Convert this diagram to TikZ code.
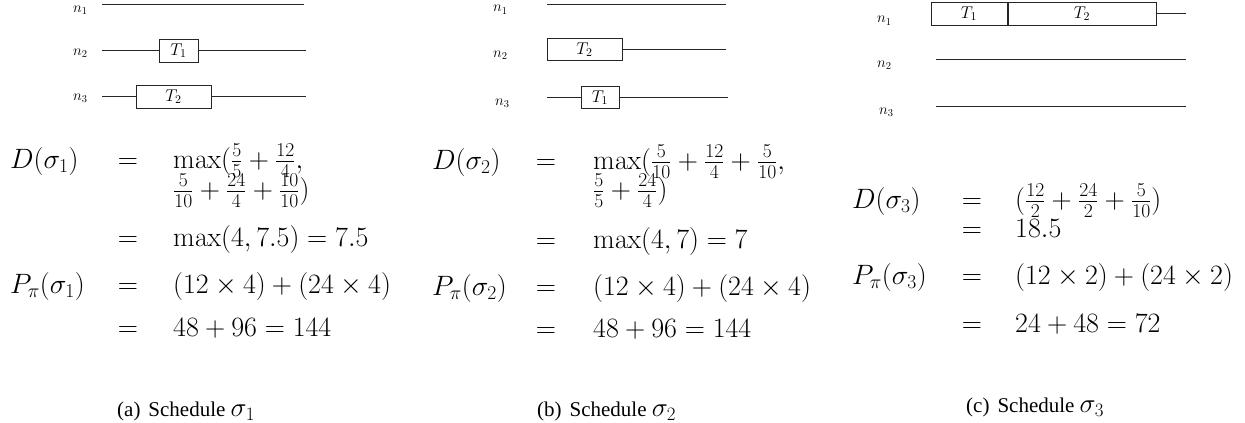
\RequirePackage{fix-cm}
\documentclass[tikz,border=0pt]{standalone}
\usepackage{amsmath}
\usepackage[no-math]{fontspec}
\newfontfamily\capfont{Liberation Serif}
\tikzset{
  eqtext/.style={font=\fontsize{28}{32}\selectfont, inner sep=0pt, anchor=base west},
  eqsign/.style={font=\fontsize{28}{32}\selectfont, inner sep=0pt, anchor=base},
  lbl/.style={font=\fontsize{15}{17}\selectfont, inner sep=0pt, anchor=base west},
  taskbox/.style={draw=black!85, line width=1pt, inner sep=0pt, font=\fontsize{17}{19}\selectfont},
  wire/.style={line width=1pt, draw=black!85},
  captext/.style={font=\capfont\fontsize{21}{25}\selectfont, inner sep=0pt, anchor=base west}
}
\newcommand{\capsig}[1]{{\fontsize{27}{30}\selectfont$\sigma_{#1}$}}
\begin{document}
\begin{tikzpicture}[x=1pt,y=-1pt]
\useasboundingbox (0,0) rectangle (1245,423);

% ---------- Panel (a) diagram ----------
\node[lbl] (a1l) at (73,12.3) {$n_1$};
\node[lbl] (a2l) at (73,55) {$n_2$};
\node[lbl] (a3l) at (73,100) {$n_3$};
\coordinate (a1s) at (102,4.5); \coordinate (a1e) at (304,4.5);
\coordinate (a2s) at (102,50.5); \coordinate (a2e) at (306,50.5);
\coordinate (a3s) at (102,96.5); \coordinate (a3e) at (306,96.5);
\node[taskbox, minimum width=39pt, minimum height=23pt] (aT1) at (178.5,50.5) {$T_1$};
\node[taskbox, minimum width=75pt, minimum height=23pt] (aT2) at (173.5,96.5) {$T_2$};
\draw[wire] (a1s) -- (a1e);
\draw[wire] (a2s) -- (aT1.west);
\draw[wire] (aT1.east) -- (a2e);
\draw[wire] (a3s) -- (aT2.west);
\draw[wire] (aT2.east) -- (a3e);

% ---------- Panel (b) diagram ----------
\node[lbl] (b1l) at (493,12) {$n_1$};
\node[lbl] (b2l) at (493,57) {$n_2$};
\node[lbl] (b3l) at (495,105) {$n_3$};
\coordinate (b1s) at (547,4.5); \coordinate (b1e) at (726,4.5);
\coordinate (b2e) at (726,49.5);
\coordinate (b3s) at (547,97.5); \coordinate (b3e) at (728,97.5);
\node[taskbox, minimum width=75pt, minimum height=22pt] (bT2) at (584.5,49.5) {$T_2$};
\node[taskbox, minimum width=38pt, minimum height=22pt] (bT1) at (600,97.5) {$T_1$};
\draw[wire] (b1s) -- (b1e);
\draw[wire] (bT2.east) -- (b2e);
\draw[wire] (b3s) -- (bT1.west);
\draw[wire] (bT1.east) -- (b3e);

% ---------- Panel (c) diagram ----------
\node[lbl] (c1l) at (877,23) {$n_1$};
\node[lbl] (c2l) at (877,67) {$n_2$};
\node[lbl] (c3l) at (879,114) {$n_3$};
\node[taskbox, minimum width=76pt, minimum height=23pt] (cT1) at (969,13.5) {$T_1$};
\node[taskbox, minimum width=148pt, minimum height=23pt] (cT2) at (1082,13.5) {$T_2$};
\coordinate (c1e) at (1186,13.5);
\coordinate (c2s) at (936,59.5); \coordinate (c2e) at (1186,59.5);
\coordinate (c3s) at (936,106.5); \coordinate (c3e) at (1186,106.5);
\draw[wire] (cT2.east) -- (c1e);
\draw[wire] (c2s) -- (c2e);
\draw[wire] (c3s) -- (c3e);

% ---------- Panel (a) equations ----------
\node[eqtext] (aDl) at (10,168) {$D(\sigma_1)$};
\node[eqsign] (aDe) at (128,168) {$=$};
\node[eqtext] (aDr) at (173,168) {$\max(\frac{5}{5}+\frac{12}{4},$};
\node[eqtext] (aDr2) at (173,198) {$\frac{5}{10}+\frac{24}{4}+\frac{10}{10})$};
\node[eqsign] (aMe) at (128,246) {$=$};
\node[eqtext] (aMr) at (173,246) {$\max(4,7.5)=7.5$};
\node[eqtext] (aPl) at (10,293) {$P_\pi(\sigma_1)$};
\node[eqsign] (aPe) at (128,293) {$=$};
\node[eqtext] (aPr) at (173,293) {$(12\times 4)+(24\times 4)$};
\node[eqsign] (aSe) at (128,336) {$=$};
\node[eqtext] (aSr) at (173,336) {$48+96=144$};

% ---------- Panel (b) equations ----------
\node[eqtext] (bDl) at (432,169) {$D(\sigma_2)$};
\node[eqsign] (bDe) at (546,169) {$=$};
\node[eqtext] (bDr) at (593,169) {$\max(\frac{5}{10}+\frac{12}{4}+\frac{5}{10},$};
\node[eqtext] (bDr2) at (593,198) {$\frac{5}{5}+\frac{24}{4})$};
\node[eqsign] (bMe) at (546,248) {$=$};
\node[eqtext] (bMr) at (593,248) {$\max(4,7)=7$};
\node[eqtext] (bPl) at (432,295) {$P_\pi(\sigma_2)$};
\node[eqsign] (bPe) at (546,295) {$=$};
\node[eqtext] (bPr) at (593,295) {$(12\times 4)+(24\times 4)$};
\node[eqsign] (bSe) at (546,337) {$=$};
\node[eqtext] (bSr) at (593,337) {$48+96=144$};

% ---------- Panel (c) equations ----------
\node[eqtext] (cDl) at (852,208) {$D(\sigma_3)$};
\node[eqsign] (cDe) at (972,208) {$=$};
\node[eqtext] (cDr) at (1015,208) {$(\frac{12}{2}+\frac{24}{2}+\frac{5}{10})$};
\node[eqsign] (cMe) at (972,237) {$=$};
\node[eqtext] (cMr) at (1015,237) {$18.5$};
\node[eqtext] (cPl) at (852,284) {$P_\pi(\sigma_3)$};
\node[eqsign] (cPe) at (972,284) {$=$};
\node[eqtext] (cPr) at (1015,284) {$(12\times 2)+(24\times 2)$};
\node[eqsign] (cSe) at (972,332) {$=$};
\node[eqtext] (cSr) at (1015,332) {$24+48=72$};

% ---------- Captions ----------
\node[captext] (capa) at (117,416) {(a)\hskip 8pt Schedule \capsig{1}};
\node[captext] (capb) at (537,416) {(b)\hskip 8pt Schedule \capsig{2}};
\node[captext] (capc) at (966,412) {(c)\hskip 8pt Schedule \capsig{3}};
\end{tikzpicture}
\end{document}
